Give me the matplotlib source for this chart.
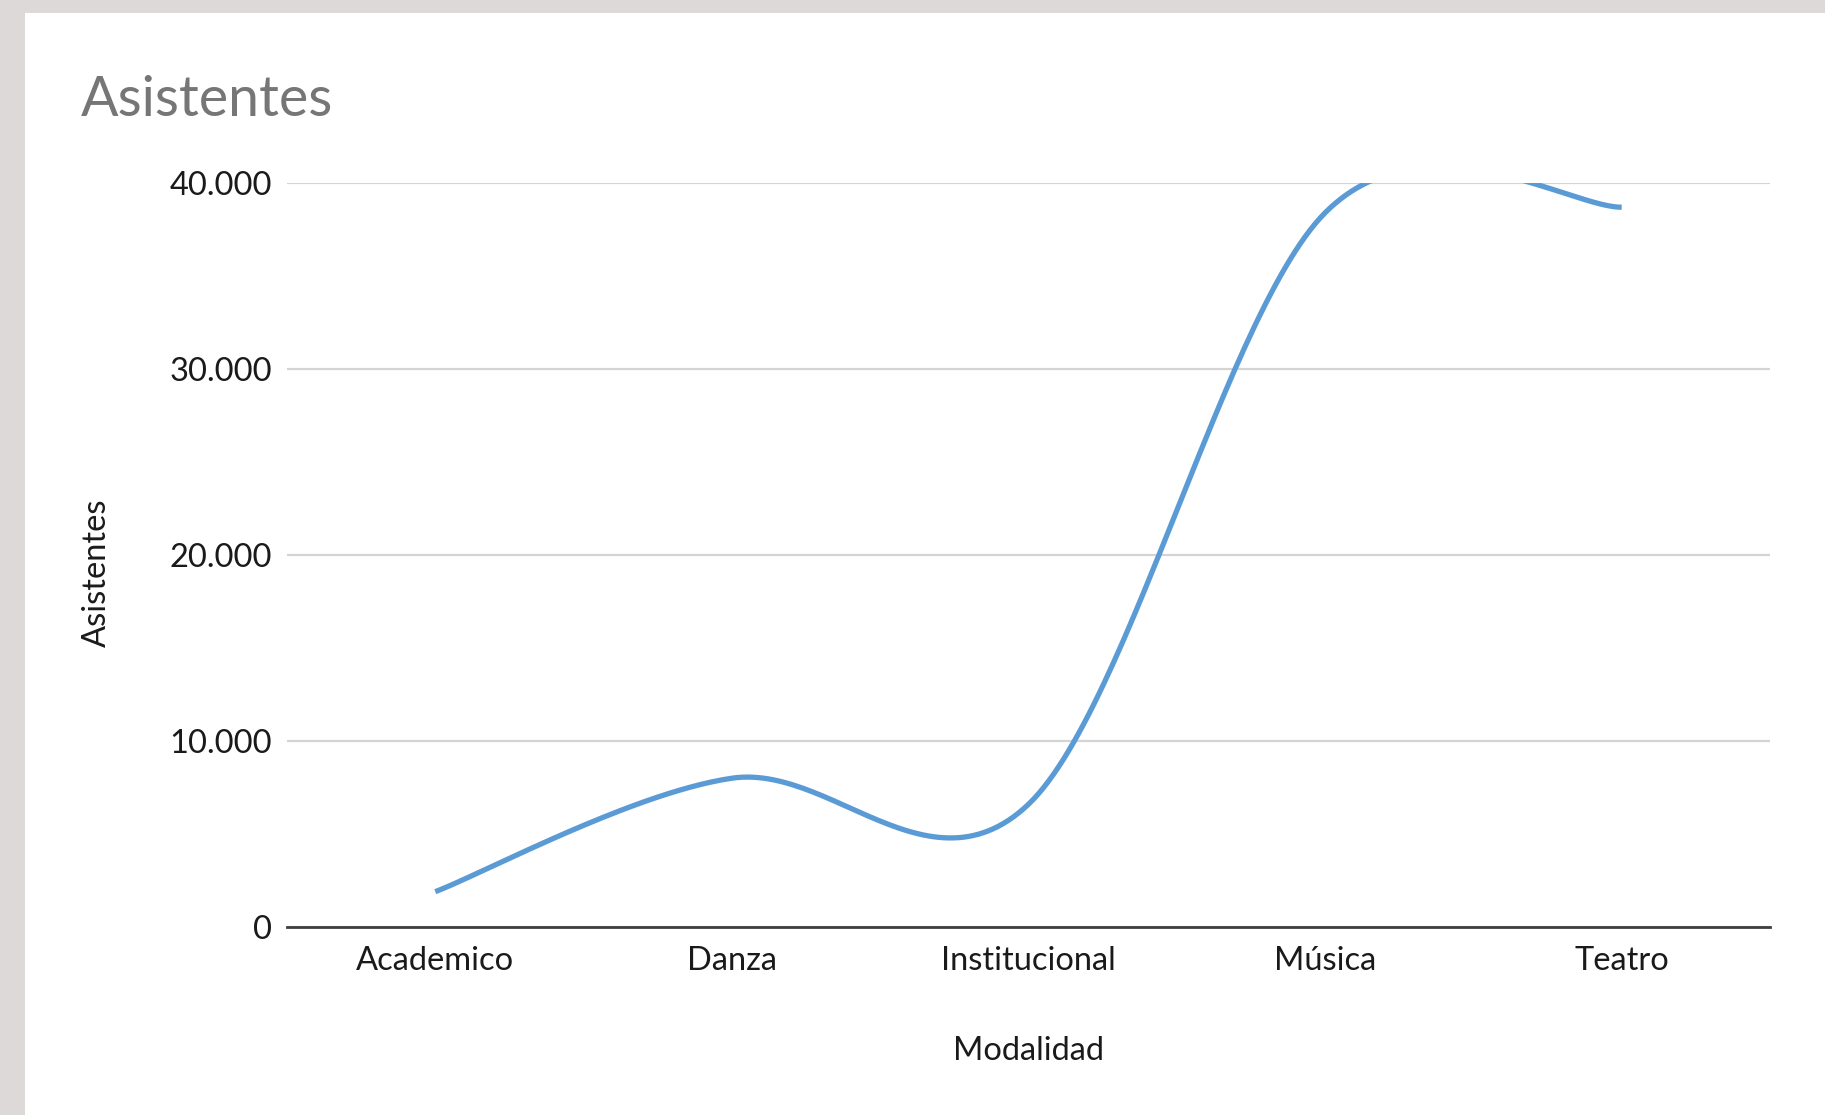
import numpy as np
import matplotlib
matplotlib.use("Agg")
import matplotlib.pyplot as plt
from matplotlib.patches import Rectangle

# datos
categorias = ["Academico", "Danza", "Institucional", "Música", "Teatro"]
asistentes = [1900, 8000, 6600, 38400, 38700]
yticks = [0, 10000, 20000, 30000, 40000]
ytick_labels = ["0", "10.000", "20.000", "30.000", "40.000"]

plt.rcParams['font.family'] = ['Lato', 'DejaVu Sans']


def suavizar(xs, ys, n=60):
    # curva tipo Excel: bezier cubica con brazos de 1/6
    px = np.array(xs, dtype=float)
    py = np.array(ys, dtype=float)
    px_e = np.concatenate([[px[0]], px, [px[-1]]])
    py_e = np.concatenate([[py[0]], py, [py[-1]]])
    out_x, out_y = [], []
    t = np.linspace(0, 1, n)
    for i in range(len(px) - 1):
        j = i + 1
        c1x = px_e[j] + (px_e[j + 1] - px_e[j - 1]) / 6
        c1y = py_e[j] + (py_e[j + 1] - py_e[j - 1]) / 6
        c2x = px_e[j + 1] - (px_e[j + 2] - px_e[j]) / 6
        c2y = py_e[j + 1] - (py_e[j + 2] - py_e[j]) / 6
        bx = ((1 - t) ** 3 * px_e[j] + 3 * (1 - t) ** 2 * t * c1x
              + 3 * (1 - t) * t ** 2 * c2x + t ** 3 * px_e[j + 1])
        by = ((1 - t) ** 3 * py_e[j] + 3 * (1 - t) ** 2 * t * c1y
              + 3 * (1 - t) * t ** 2 * c2y + t ** 3 * py_e[j + 1])
        out_x.extend(bx)
        out_y.extend(by)
    return np.array(out_x), np.array(out_y)


fig = plt.figure(figsize=(18.25, 11.15), dpi=100)
fig.patch.set_facecolor("#dcd9d8")
fondo = Rectangle((25 / 1825, 0), 1 - 25 / 1825, 1 - 13 / 1115,
                  transform=fig.transFigure, facecolor="white",
                  edgecolor="none", zorder=-10)
fig.patches.append(fondo)

ax = fig.add_axes([287 / 1825, 1 - 927 / 1115, (1770 - 287) / 1825, (927 - 183) / 1115])
ax.set_facecolor("none")

x = np.arange(len(categorias))
sx, sy = suavizar(x, asistentes)
ax.plot(sx, sy, color="#5b9bd5", lw=3.8, solid_capstyle="butt", zorder=3)

ax.set_xlim(-0.5, len(categorias) - 0.5)
ax.set_ylim(0, 40000)
ax.set_xticks(x)
ax.set_xticklabels(categorias, fontsize=23.5, color="#1a1a1a")
ax.set_yticks(yticks)
ax.set_yticklabels(ytick_labels, fontsize=23.5, color="#1a1a1a")
ax.tick_params(axis="both", length=0)
ax.tick_params(axis="x", pad=14)
ax.tick_params(axis="y", pad=11)

ax.grid(axis="y", color="#d4d4d4", lw=1.6)
ax.set_axisbelow(True)
for s in ["top", "right", "left"]:
    ax.spines[s].set_visible(False)
ax.spines["bottom"].set_color("#3f3f3f")
ax.spines["bottom"].set_linewidth(2)
ax.spines["bottom"].set_zorder(4)

ax.set_xlabel("Modalidad", fontsize=23.5, color="#1a1a1a", va="center")
ax.xaxis.set_label_coords(0.5, -0.167)
ax.set_ylabel("Asistentes", fontsize=23.5, color="#1a1a1a", va="center")
ax.yaxis.set_label_coords(-0.128, 0.476)

fig.text(81 / 1825, 1 - 100 / 1115, "Asistentes", fontsize=40, color="#767676",
         ha="left", va="center")

fig.savefig("out.png", dpi=100, facecolor=fig.get_facecolor())
